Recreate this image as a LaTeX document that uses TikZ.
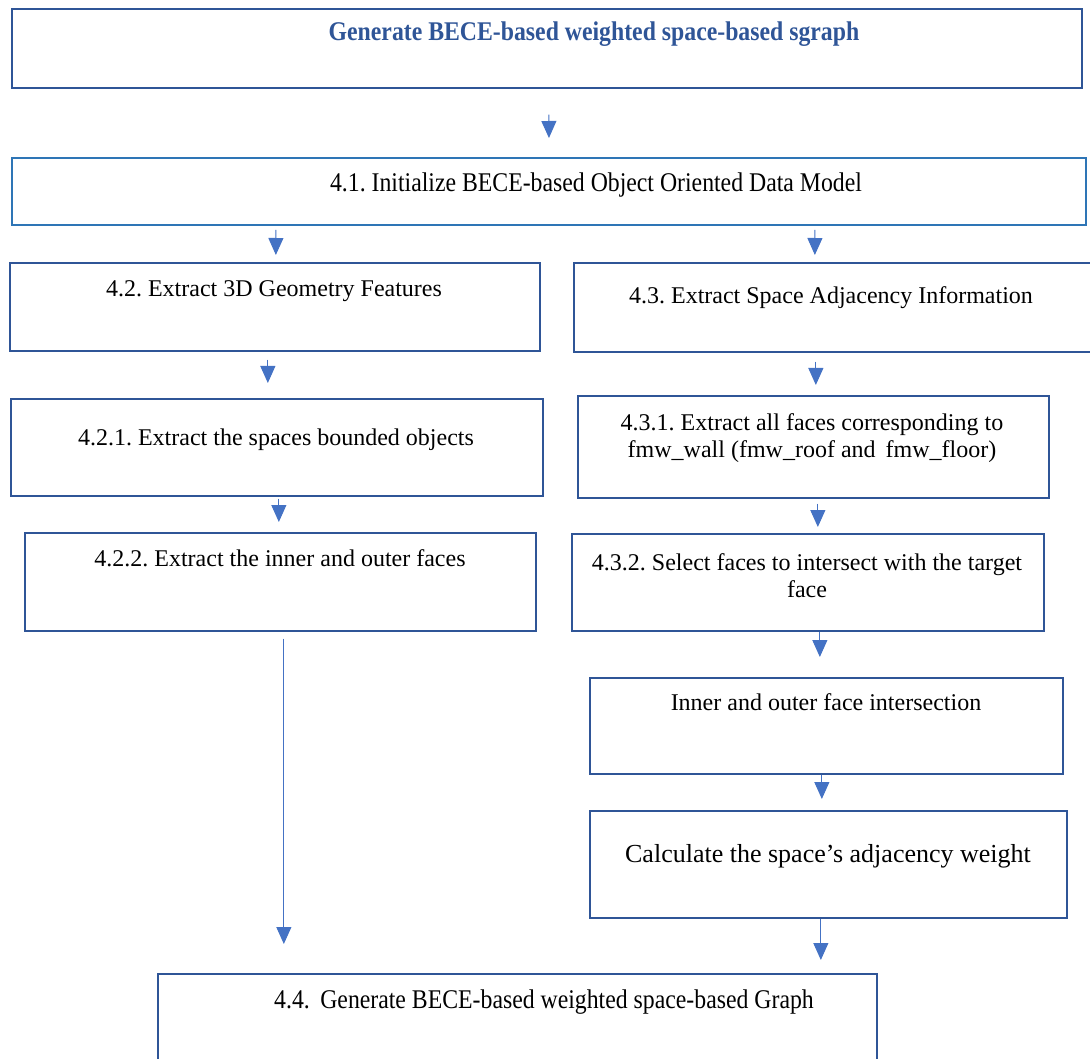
\documentclass[tikz,border=0pt]{standalone}
\usepackage{fontspec}
\setmainfont{Liberation Serif}
\newfontfamily\narrowserif[FakeStretch=0.88]{Liberation Serif}
\usetikzlibrary{arrows.meta,calc}
\definecolor{boxblue}{HTML}{2F5597}
\definecolor{brightblue}{HTML}{2E75B6}
\definecolor{lineblue}{HTML}{4472C4}
\frenchspacing

\tikzset{
  box/.style={draw=boxblue, line width=1.7pt, rectangle, anchor=north west,
    inner sep=0pt, minimum width=#1},
  txt/.style={anchor=base, inner sep=0pt, align=center,
    font=\fontsize{24}{27}\selectfont},
  ntxt/.style={anchor=base, inner sep=0pt,
    font=\narrowserif\fontsize{27}{30}\selectfont},
  arr/.style={draw=lineblue, line width=1pt,
    -{Triangle[width=15pt,length=17pt]}},
}

\begin{document}
\begin{tikzpicture}[x=1pt, y=-1pt]
  \useasboundingbox (0,0) rectangle (1090,1059);
  \clip (0,0) rectangle (1090,1059);

  % process boxes
  \node[box=1070pt, minimum height=79pt] (top) at (11,8) {};
  \node[box=1074pt, minimum height=67pt, draw=brightblue, line width=1.9pt] (b41) at (11,157) {};
  \node[box=530pt, minimum height=88pt] (b42) at (9,262) {};
  \node[box=525pt, minimum height=89pt] (b43) at (573,262) {};
  \node[box=532pt, minimum height=97pt] (b421) at (10,398) {};
  \node[box=471pt, minimum height=102pt] (b431) at (577,395) {};
  \node[box=511pt, minimum height=98pt] (b422) at (24,532) {};
  \node[box=472pt, minimum height=97pt] (b432) at (571,533) {};
  \node[box=473pt, minimum height=96pt] (binner) at (589,677) {};
  \node[box=477pt, minimum height=107pt] (bcalc) at (589,810) {};
  \node[box=719pt, minimum height=110pt] (b44) at (157,973) {};

  % box captions (two-line captions are placed by their last baseline)
  \node[ntxt, font=\narrowserif\bfseries\fontsize{27}{30}\selectfont, text=boxblue] (ttop) at (594,41)
    {Generate BECE-based weighted space-based sgraph};
  \node[ntxt] (t41) at (596,192) {4.1. Initialize BECE-based Object Oriented Data Model};
  \node[txt] (t42) at (274,297) {4.2. Extract 3D Geometry Features};
  \node[txt] (t43) at (831,304) {4.3. Extract Space Adjacency Information};
  \node[txt] (t421) at (276,445) {4.2.1. Extract the spaces bounded objects};
  \node[txt] (t431) at (812,457) {4.3.1. Extract all faces corresponding to\\fmw\_wall (fmw\_roof and\, fmw\_floor)};
  \node[txt] (t422) at (280,566) {4.2.2. Extract the inner and outer faces};
  \node[txt] (t432) at (807,597) {4.3.2. Select faces to intersect with the target\\face};
  \node[txt] (tinner) at (826,710) {Inner and outer face intersection};
  \node[txt, font=\fontsize{26}{30}\selectfont] (tcalc) at (828,862) {Calculate the space’s adjacency weight};
  \node[ntxt] (t44) at (544,1008) {4.4.\, Generate BECE-based weighted space-based Graph};

  % connectors
  \draw[arr] ($(top.south)+(2,26)$) -- ($(b41.north)+(0,-19)$);
  \draw[arr] ($(b41.south)+(-273,4)$) -- ($(b42.north)+(1,-7)$);
  \draw[arr] ($(b41.south)+(266,4)$) -- ($(b43.north)+(-21.5,-7)$);
  \draw[arr] ($(b42.south)+(-7,8)$) -- ($(b421.north)+(-9,-15)$);
  \draw[arr] ($(b43.south)+(-20.5,9)$) -- ($(b431.north)+(2.5,-10)$);
  \draw[arr] ($(b421.south)+(2,2)$) -- ($(b422.north)+(-1.5,-10)$);
  \draw[arr] ($(b431.south)+(4.5,5)$) -- ($(b432.north)+(10,-6)$);
  \draw[arr] ($(b432.south)+(12,0)$) -- ($(binner.north)+(-6.5,-20)$);
  \draw[arr] ($(binner.south)+(-4.5,0)$) -- ($(bcalc.north)+(-6.5,-11)$);
  \draw[arr] ($(bcalc.south)+(-7.5,0)$) -- ($(b44.north)+(303.5,-13)$);
  \draw[arr] ($(b422.south)+(3.5,7)$) -- ($(b44.north)+(-233.5,-29)$);
\end{tikzpicture}
\end{document}
